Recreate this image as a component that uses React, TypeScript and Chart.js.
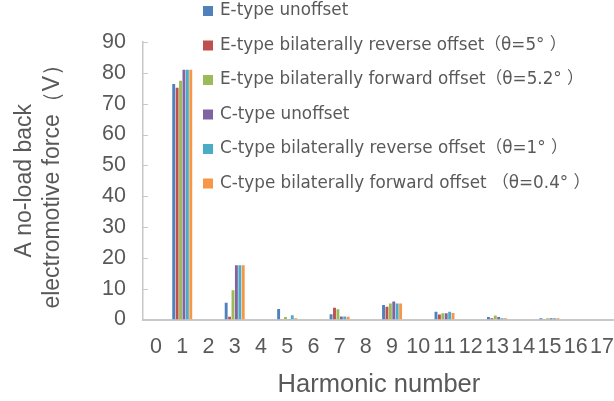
import React, { useEffect, useRef } from "react";
import { Chart, registerables } from "chart.js";

Chart.register(...registerables);

// Harmonic orders on the x axis
const harmonics = ["0", "1", "2", "3", "4", "5", "6", "7", "8", "9", "10", "11", "12", "13", "14", "15", "16", "17"];

// Series names and colours
const seriesLabels = [
  "E-type unoffset",
  "E-type bilaterally reverse offset（θ=5° ）",
  "E-type bilaterally forward offset（θ=5.2° ）",
  "C-type unoffset",
  "C-type bilaterally reverse offset（θ=1° ）",
  "C-type bilaterally forward offset （θ=0.4° ）",
];
const seriesColors = ["#4F81BD", "#C0504D", "#9BBB59", "#8064A2", "#4BACC6", "#F79646"];

// No-load back EMF amplitude (V) per harmonic order 0..17
const eUnoffset = [null, 76.4, null, 5.4, null, 3.4, null, 1.7, null, 4.7, null, 2.5, null, 0.85, null, 0.4, null, null];
const eReverse = [null, 75.2, null, 0.9, null, 0.1, null, 3.8, null, 4.1, null, 1.6, null, 0.4, null, 0.1, null, null];
const eForward = [null, 77.4, null, 9.5, null, 0.85, null, 3.3, null, 5.2, null, 2.0, null, 1.3, null, 0.4, null, null];
const cUnoffset = [null, 81.0, null, 17.6, null, 0.1, null, 1.0, null, 5.8, null, 2.0, null, 0.85, null, 0.4, null, null];
const cReverse = [null, 81.0, null, 17.6, null, 1.4, null, 1.0, null, 5.2, null, 2.5, null, 0.4, null, 0.4, null, null];
const cForward = [null, 81.0, null, 17.6, null, 0.4, null, 0.9, null, 5.2, null, 2.1, null, 0.4, null, 0.4, null, null];

const seriesValues = [eUnoffset, eReverse, eForward, cUnoffset, cReverse, cForward];

const TEXT_COLOR = "#595959";
const AXIS_COLOR = "#C8C8C8";
const AXIS_FONT = '"Liberation Sans", Arial, sans-serif';
const LEGEND_FONT = '"DejaVu Sans", "Noto Sans CJK SC", sans-serif';

// Vertical legend drawn at the upper right, over the plot area
const sideLegend = {
  id: "sideLegend",
  afterDraw(chart: any) {
    const { ctx } = chart;
    ctx.save();
    ctx.font = `16.8px ${LEGEND_FONT}`;
    ctx.textBaseline = "middle";
    ctx.textAlign = "left";
    chart.data.datasets.forEach((ds: any, i: number) => {
      const y = 11 + i * 34.5;
      ctx.fillStyle = ds.backgroundColor;
      ctx.fillRect(203, y - 5, 10, 10);
      ctx.fillStyle = TEXT_COLOR;
      ctx.fillText(ds.label, 220, y);
    });
    ctx.restore();
  },
};

// Short inward tick marks on the value axis
const innerTicks = {
  id: "innerTicks",
  afterDatasetsDraw(chart: any) {
    const { ctx } = chart;
    const y = chart.scales.y;
    const x0 = chart.chartArea.left;
    ctx.save();
    ctx.strokeStyle = AXIS_COLOR;
    ctx.lineWidth = 1;
    y.ticks.forEach((t: any) => {
      const py = Math.round(y.getPixelForValue(t.value)) + 0.5;
      ctx.beginPath();
      ctx.moveTo(x0, py);
      ctx.lineTo(x0 + 5, py);
      ctx.stroke();
    });
    ctx.restore();
  },
};

export default function App() {
  const canvasRef = useRef<HTMLCanvasElement>(null);

  useEffect(() => {
    const canvas = canvasRef.current;
    if (!canvas) return;
    const chart = new Chart(canvas, {
      type: "bar",
      data: {
        labels: harmonics,
        datasets: seriesLabels.map((label, i) => ({
          label,
          data: seriesValues[i],
          backgroundColor: seriesColors[i],
          borderWidth: 0,
          categoryPercentage: 0.78,
          barPercentage: 0.85,
        })),
      },
      options: {
        responsive: false,
        devicePixelRatio: 1,
        animation: false,
        layout: { padding: { top: 42, right: 25, left: 0, bottom: 0 } },
        plugins: {
          legend: { display: false },
          tooltip: { enabled: false },
        },
        scales: {
          x: {
            grid: { display: false, drawTicks: false },
            border: { display: true, color: AXIS_COLOR, width: 2 },
            ticks: {
              color: TEXT_COLOR,
              font: { family: AXIS_FONT, size: 21.5 },
              padding: 15,
              autoSkip: false,
              maxRotation: 0,
            },
            title: {
              display: true,
              text: "Harmonic number",
              color: TEXT_COLOR,
              font: { family: AXIS_FONT, size: 25.5 },
              padding: { top: 0, bottom: 1 },
            },
            afterFit(scale: any) {
              scale.height = 81.5;
            },
          },
          y: {
            min: 0,
            max: 90,
            ticks: {
              stepSize: 10,
              color: TEXT_COLOR,
              font: { family: AXIS_FONT, size: 21.5 },
              padding: 17,
            },
            grid: { display: false, drawTicks: false },
            border: { display: true, color: AXIS_COLOR, width: 1.5 },
            title: {
              display: true,
              text: ["A no-load back", "electromotive force（V）"],
              color: TEXT_COLOR,
              font: { family: AXIS_FONT, size: 23, lineHeight: 1.2 },
              padding: { top: 11, bottom: 0 },
            },
            afterFit(scale: any) {
              scale.width = 142.9;
            },
          },
        },
      },
      plugins: [innerTicks, sideLegend],
    });
    return () => chart.destroy();
  }, []);

  return (
    <div
      style={{
        position: "fixed",
        left: 0,
        top: 0,
        width: 614,
        height: 401,
        overflow: "hidden",
        background: "#ffffff",
      }}
    >
      <canvas ref={canvasRef} width={640} height={401} style={{ display: "block" }} />
    </div>
  );
}
